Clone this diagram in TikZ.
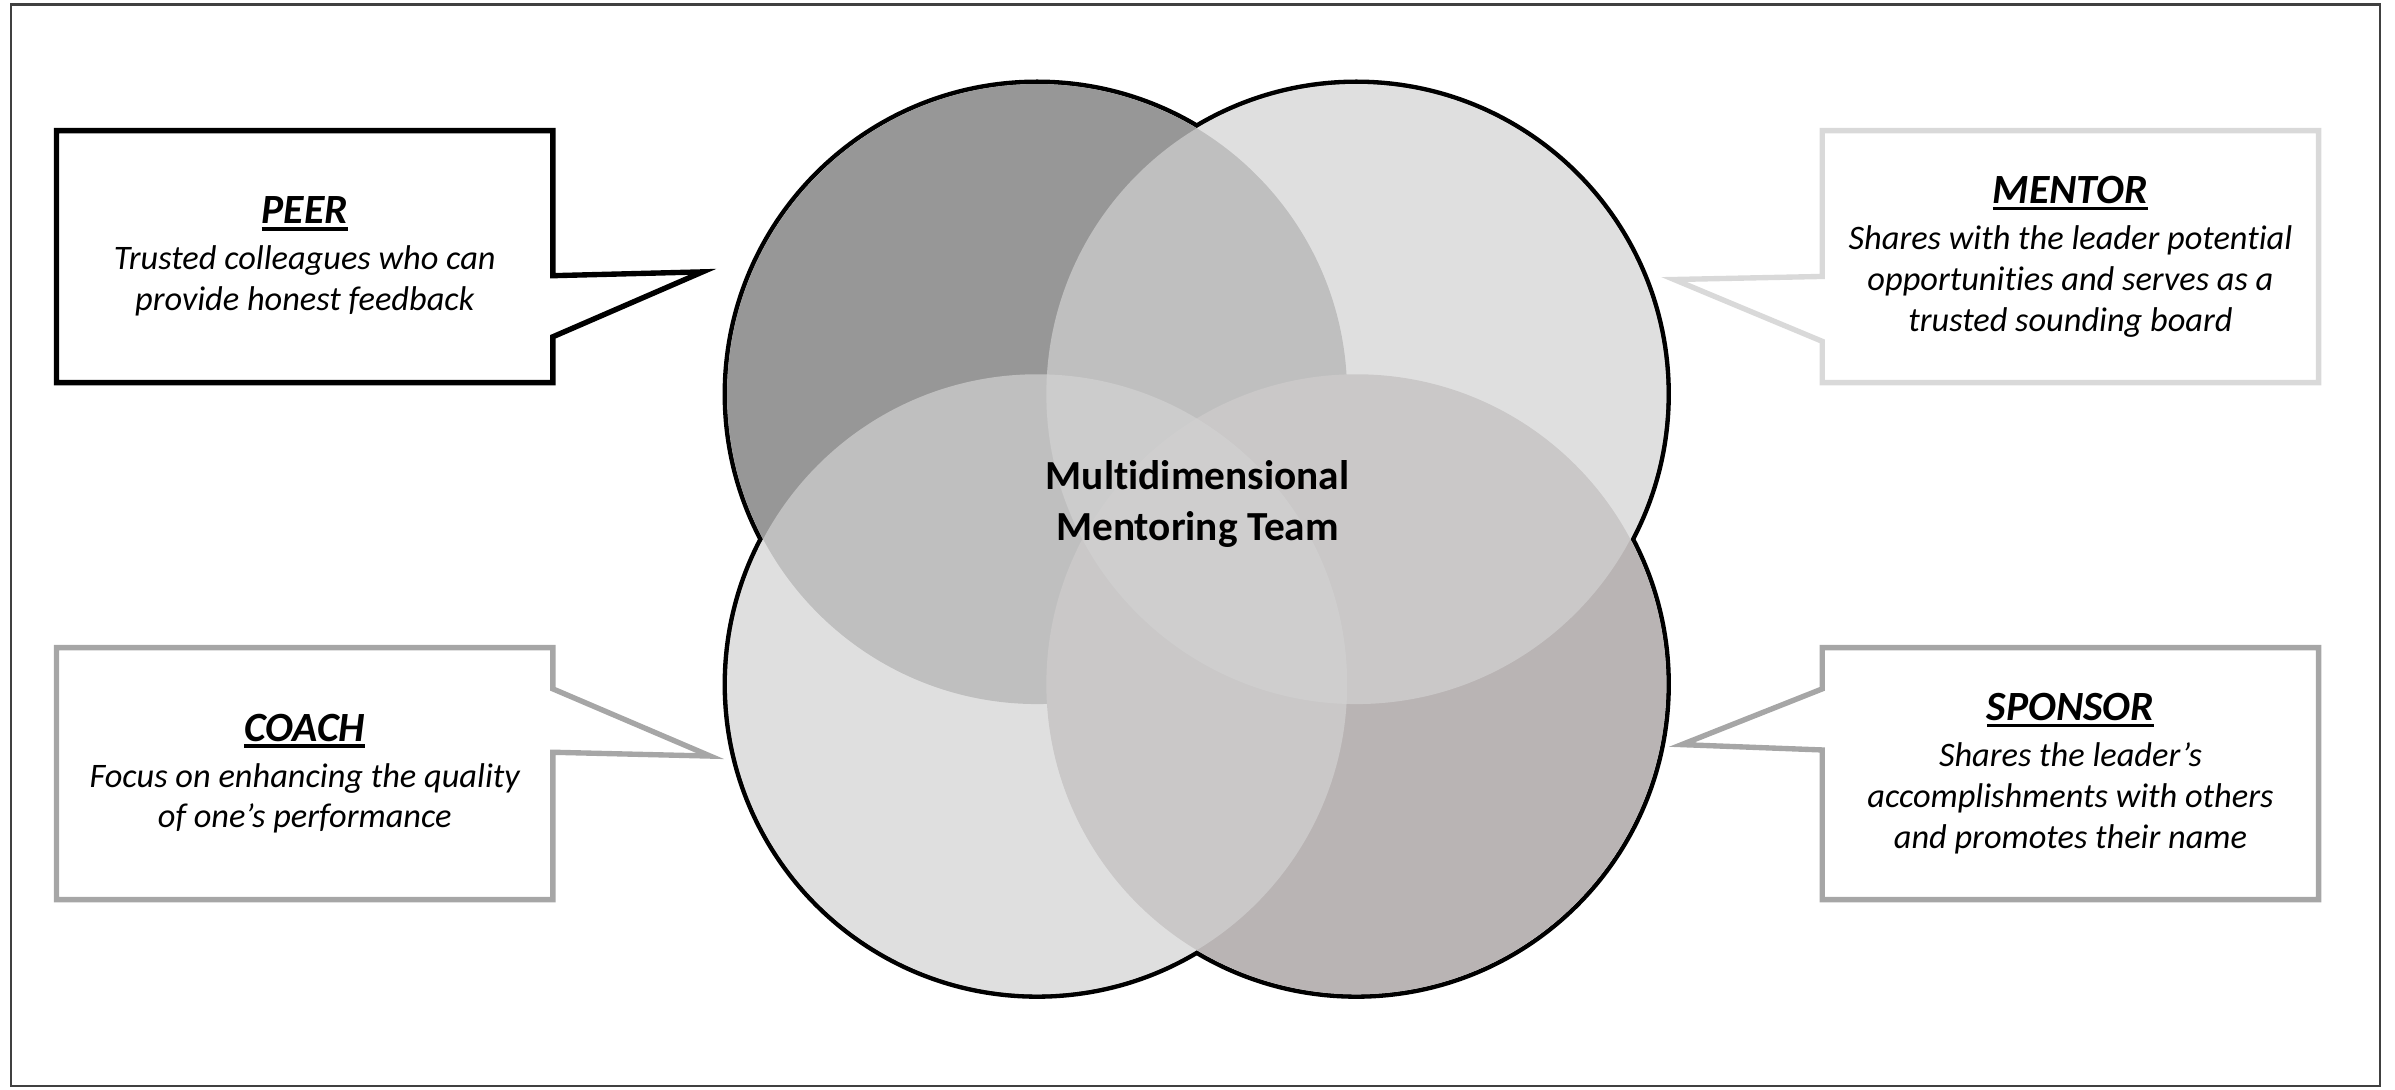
\documentclass[tikz,border=0pt]{standalone}
\usepackage{fontspec}
\setmainfont{Carlito}[Ligatures={TeX,NoCommon}]

\definecolor{peerfill}{HTML}{979797}
\definecolor{sponsorfill}{HTML}{B9B4B4}
\definecolor{softfill}{HTML}{D2D2D2}
\definecolor{mentorline}{HTML}{D9D9D9}
\definecolor{coachline}{HTML}{A6A6A6}
\definecolor{framegray}{HTML}{404040}

% bold heading with a heavy underline
\newcommand{\rolename}[1]{{\fontsize{15.5}{17}\selectfont\bfseries
  \setbox0\hbox{#1}\rlap{\rule[-2.5pt]{\wd0}{1.3pt}}\box0}}

\begin{document}
\begin{tikzpicture}[x=0.02cm, y=0.02cm,
    callbox/.style={minimum width=6.5cm, minimum height=3.3cm, inner sep=0pt, outer sep=0pt,
      align=center, font=\fontsize{12.8}{15.2}\selectfont\itshape},
    callline/.style={line width=2pt, line join=miter},
    ring/.style={line width=3.4pt},
  ]
  \useasboundingbox (0,0) rectangle (1568,713);
  \draw[framegray, line width=0.8pt] (7,2) rectangle (1558,710);

  % the four role boxes
  \node[callbox] (peer) at (199.5,545) {\rolename{PEER}\\[2pt] Trusted colleagues who can\\ provide honest feedback};
  \node[callbox] (mentor) at (1355.5,545) {\rolename{MENTOR}\\[2pt] Shares with the leader potential\\ opportunities and serves as a\\ trusted sounding board};
  \node[callbox] (coach) at (199.5,206.5) {\rolename{COACH}\\[2pt] Focus on enhancing the quality\\ of one's performance};
  \node[callbox] (sponsor) at (1355.5,206.5) {\rolename{SPONSOR}\\[2pt] Shares the leader's\\ accomplishments with others\\ and promotes their name};

  \coordinate (peer tip) at (460,535);
  \coordinate (mentor tip) at (1096,530);
  \coordinate (coach tip) at (465,218);
  \coordinate (sponsor tip) at (1101,225.5);

  \draw[callline, draw=black] (peer.north west) -- (peer.north east) -- ([yshift=-1.9cm]peer.north east)
    -- (peer tip) -- ([yshift=0.6cm]peer.south east) -- (peer.south east) -- (peer.south west) -- cycle;
  \draw[callline, draw=mentorline] (mentor.north east) -- (mentor.north west) -- ([yshift=-1.91cm]mentor.north west)
    -- (mentor tip) -- ([yshift=0.54cm]mentor.south west) -- (mentor.south west) -- (mentor.south east) -- cycle;
  \draw[callline, draw=coachline] (coach.north west) -- (coach.north east) -- ([yshift=-0.54cm]coach.north east)
    -- (coach tip) -- ([yshift=1.93cm]coach.south east) -- (coach.south east) -- (coach.south west) -- cycle;
  \draw[callline, draw=coachline] (sponsor.north east) -- (sponsor.north west) -- ([yshift=-0.54cm]sponsor.north west)
    -- (sponsor tip) -- ([yshift=1.96cm]sponsor.south west) -- (sponsor.south west) -- (sponsor.south east) -- cycle;

  % overlapping circles: outline first, the white fill hides the inner half
  \coordinate (cpeer) at (679,455);
  \coordinate (cmentor) at (888,455);
  \coordinate (ccoach) at (679,265);
  \coordinate (csponsor) at (888,265);
  \foreach \c in {cpeer,cmentor,ccoach,csponsor}
    \draw[ring] (\c) circle[radius=4.06cm];
  \foreach \c in {cpeer,cmentor,ccoach,csponsor}
    \fill[white] (\c) circle[radius=4.06cm];
  \fill[peerfill] (cpeer) circle[radius=4.06cm];
  \fill[sponsorfill] (csponsor) circle[radius=4.06cm];
  \fill[softfill, fill opacity=0.69] (cmentor) circle[radius=4.06cm];
  \fill[softfill, fill opacity=0.69] (ccoach) circle[radius=4.06cm];

  \node[font=\fontsize{15.4}{19}\selectfont\bfseries, align=center] (team) at (784,383) {Multidimensional\\ Mentoring Team};
\end{tikzpicture}
\end{document}
